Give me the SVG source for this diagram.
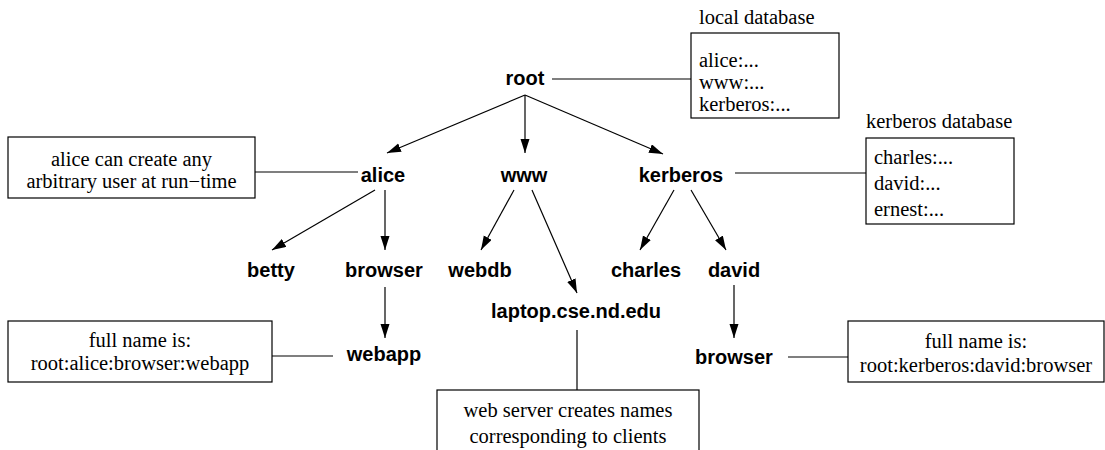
<svg xmlns="http://www.w3.org/2000/svg" width="1105" height="450" viewBox="0 0 1105 450">
<style>
.n{font-family:"Liberation Sans",Arial,sans-serif;font-weight:bold;font-size:20px;fill:#000;text-anchor:middle}
.s{font-family:"Liberation Serif","Times New Roman",serif;font-size:20.5px;fill:#000}
.c{text-anchor:middle}
.b{fill:#fff;stroke:#000;stroke-width:1.2}
.l{stroke:#000;stroke-width:1.2;fill:none}
</style>
<defs>
<marker id="ah" markerUnits="userSpaceOnUse" markerWidth="15" markerHeight="10" refX="14" refY="4.5" orient="auto">
<path d="M0,0 L14,4.5 L0,9 z" fill="#000"/>
</marker>
</defs>
<rect width="1105" height="450" fill="#fff"/>
<g id="connectors">
<line class="l" x1="525" y1="95" x2="387" y2="153" marker-end="url(#ah)"/>
<line class="l" x1="525" y1="95" x2="525" y2="153" marker-end="url(#ah)"/>
<line class="l" x1="525" y1="95" x2="663" y2="154" marker-end="url(#ah)"/>
<line class="l" x1="375" y1="190" x2="272" y2="250" marker-end="url(#ah)"/>
<line class="l" x1="385" y1="190" x2="385" y2="250" marker-end="url(#ah)"/>
<line class="l" x1="514" y1="190" x2="481" y2="250" marker-end="url(#ah)"/>
<line class="l" x1="532" y1="190" x2="577" y2="293" marker-end="url(#ah)"/>
<line class="l" x1="674" y1="190" x2="640" y2="250" marker-end="url(#ah)"/>
<line class="l" x1="691" y1="190" x2="726" y2="250" marker-end="url(#ah)"/>
<line class="l" x1="385" y1="287" x2="385" y2="338" marker-end="url(#ah)"/>
<line class="l" x1="734" y1="285" x2="734" y2="338" marker-end="url(#ah)"/>
<line class="l" x1="552" y1="79" x2="691" y2="79"/>
<line class="l" x1="255" y1="172" x2="358" y2="172"/>
<line class="l" x1="735" y1="173" x2="866" y2="173"/>
<line class="l" x1="272" y1="356" x2="333" y2="356"/>
<line class="l" x1="788" y1="357" x2="848" y2="357"/>
<line class="l" x1="577" y1="330" x2="577" y2="390"/>
</g>
<g id="root"><text class="n" x="525" y="85">root</text></g>
<g id="alice"><text class="n" x="383" y="182">alice</text></g>
<g id="www"><text class="n" x="524" y="182">www</text></g>
<g id="kerberos"><text class="n" x="681" y="182">kerberos</text></g>
<g id="betty"><text class="n" x="271" y="277">betty</text></g>
<g id="browser-alice"><text class="n" x="384" y="277">browser</text></g>
<g id="webdb"><text class="n" x="480" y="277">webdb</text></g>
<g id="charles"><text class="n" x="646" y="277">charles</text></g>
<g id="david"><text class="n" x="734" y="277">david</text></g>
<g id="laptop"><text class="n" x="576" y="318">laptop.cse.nd.edu</text></g>
<g id="webapp"><text class="n" x="384" y="361">webapp</text></g>
<g id="browser-david"><text class="n" x="734" y="364">browser</text></g>
<g id="local-db">
<text class="s" x="699" y="24">local database</text>
<rect class="b" x="691" y="33" width="148" height="85"/>
<text class="s" x="699" y="67">alice:...</text>
<text class="s" x="699" y="89">www:...</text>
<text class="s" x="699" y="111">kerberos:...</text>
</g>
<g id="kerberos-db">
<text class="s" x="866" y="128">kerberos database</text>
<rect class="b" x="866" y="138" width="148" height="86"/>
<text class="s" x="874" y="164">charles:...</text>
<text class="s" x="874" y="190">david:...</text>
<text class="s" x="874" y="216">ernest:...</text>
</g>
<g id="alice-note">
<rect class="b" x="8" y="137" width="247" height="61"/>
<text class="s c" x="131.5" y="166">alice can create any</text>
<text class="s c" x="131.5" y="188">arbitrary user at run−time</text>
</g>
<g id="webapp-note">
<rect class="b" x="8" y="321" width="264" height="61"/>
<text class="s c" x="140" y="347">full name is:</text>
<text class="s c" x="140" y="370">root:alice:browser:webapp</text>
</g>
<g id="browser-note">
<rect class="b" x="848" y="321" width="256" height="61"/>
<text class="s c" x="976" y="348">full name is:</text>
<text class="s c" x="976" y="372">root:kerberos:david:browser</text>
</g>
<g id="webserver-note">
<rect class="b" x="437" y="390" width="262" height="70"/>
<text class="s c" x="568" y="417">web server creates names</text>
<text class="s c" x="568" y="443">corresponding to clients</text>
</g>
</svg>
